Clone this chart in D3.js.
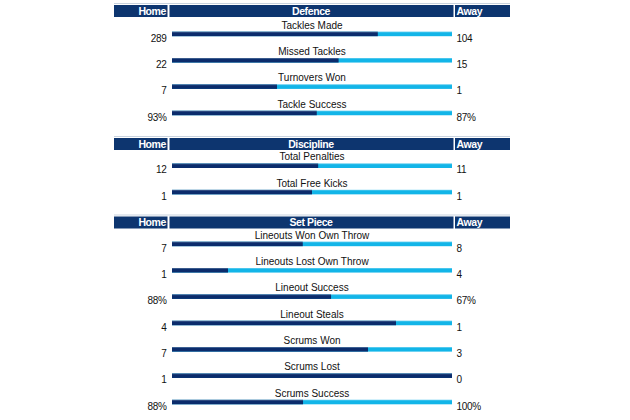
<!DOCTYPE html>
<html><head><meta charset="utf-8">
<script src="https://cdn.jsdelivr.net/npm/d3@7"></script>
<style>body{margin:0;background:#fff}svg{display:block}</style>
</head><body>
<script>
const sections = ["Defence", "Discipline", "Set Piece"];
const sectionOf = [0,0,0,0,1,1,2,2,2,2,2,2,2];
const categories = ["Tackles Made","Missed Tackles","Turnovers Won","Tackle Success",
  "Total Penalties","Total Free Kicks",
  "Lineouts Won Own Throw","Lineouts Lost Own Throw","Lineout Success","Lineout Steals","Scrums Won","Scrums Lost","Scrums Success"];
const homeLabels = ["289","22","7","93%","12","1","7","1","88%","4","7","1","88%"];
const awayLabels = ["104","15","1","87%","11","1","8","4","67%","1","3","0","100%"];
// home share of each bar (%), as drawn in the picture
const homeShare = [73.5,59.5,37.5,51.7,52.2,50,46.7,20,56.8,80,70,100,46.8];

const W = 630, H = 420;
const svg = d3.select("body").append("svg").attr("width", W).attr("height", H)
  .style("font-family", "Arial, 'Liberation Sans', sans-serif");

const x = d3.scaleLinear().domain([0, 100]).range([172, 452]);
const headerTop = d3.scaleOrdinal().domain(sections).range([5, 138, 216.5]);
const firstBar = d3.scaleOrdinal().domain(sections).range([31.7, 163.5, 241.7]);
const rowStep = 26.35;
const dark = "#0b2c6c", light = "#12b5e8", head = "#0d356f";

sections.forEach(s => {
  const y0 = headerTop(s);
  svg.append("rect").attr("x", 114).attr("y", y0 - 2).attr("width", 396).attr("height", 1).attr("fill", "#c9d3df");
  svg.append("rect").attr("x", 114).attr("y", y0).attr("width", 53.5).attr("height", 12).attr("fill", head);
  svg.append("rect").attr("x", 169.5).attr("y", y0).attr("width", 284).attr("height", 12).attr("fill", head);
  svg.append("rect").attr("x", 455).attr("y", y0).attr("width", 55).attr("height", 12).attr("fill", head);
  const t = (txt, xx, anchor) => svg.append("text").attr("x", xx).attr("y", y0 + 9.8)
    .attr("text-anchor", anchor).attr("fill", "#fff").attr("font-weight", "bold")
    .attr("font-size", 10.5).style("letter-spacing", "-0.4px").text(txt);
  t("Home", 166, "end");
  t(s, x(50) - 1, "middle");
  t("Away", 456.5, "start");
});

const rows = categories.map((c, i) => {
  const s = sections[sectionOf[i]];
  const idx = sectionOf.slice(0, i).filter(v => v === sectionOf[i]).length;
  return {c, i, y: firstBar(s) + idx * rowStep};
});

const g = svg.selectAll("g.row").data(rows).join("g").attr("class", "row");
g.append("rect").attr("x", x(0)).attr("y", d => d.y).attr("width", x(100) - x(0)).attr("height", 4.5).attr("fill", light);
g.append("rect").attr("x", x(0)).attr("y", d => d.y).attr("width", d => x(homeShare[d.i]) - x(0)).attr("height", 4.5).attr("fill", dark);
g.append("rect").attr("x", x(0)).attr("y", d => d.y).attr("width", x(100) - x(0)).attr("height", 0.8).attr("fill", "#ffffff").attr("opacity", 0.25);
g.append("text").attr("x", x(50)).attr("y", d => d.y - 3.2).attr("text-anchor", "middle")
  .attr("font-size", 10).attr("fill", "#111").text(d => d.c);
g.append("text").attr("x", 166.5).attr("y", d => d.y + 9.8).attr("text-anchor", "end")
  .attr("font-size", 10).style("letter-spacing", "-0.3px").attr("fill", "#111").text(d => homeLabels[d.i]);
g.append("text").attr("x", 456.5).attr("y", d => d.y + 9.8).attr("text-anchor", "start")
  .attr("font-size", 10).style("letter-spacing", "-0.3px").attr("fill", "#111").text(d => awayLabels[d.i]);
</script>
</body></html>
